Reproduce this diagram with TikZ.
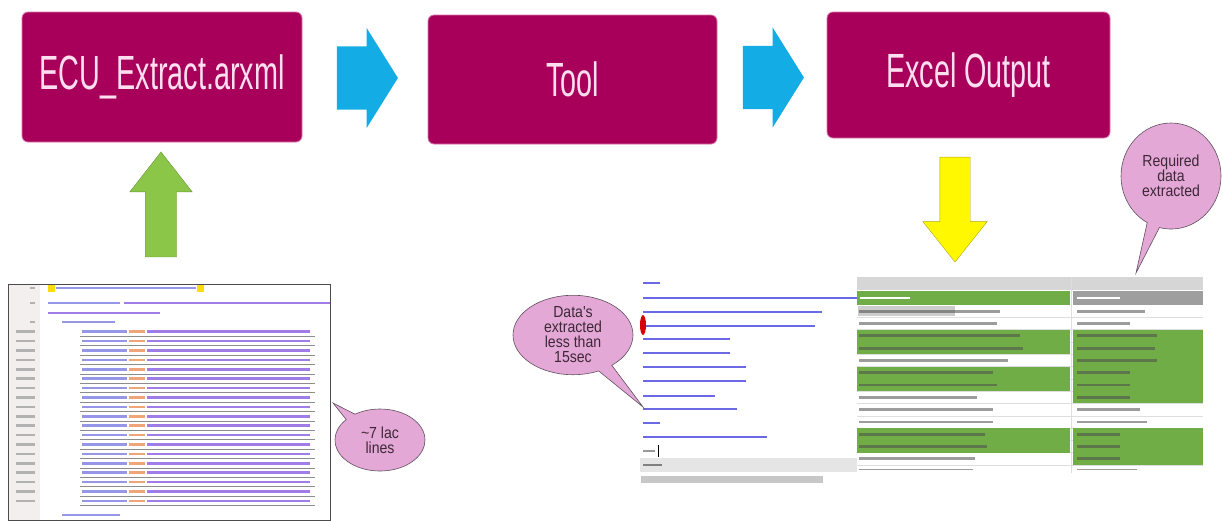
\documentclass[tikz,border=0pt]{standalone}
\usepackage{fontspec}
\setmainfont{Liberation Sans}
\newfontfamily\condfont[FakeStretch=0.6]{Liberation Sans}
\newfontfamily\narrowfont[FakeStretch=0.88]{Liberation Sans}
\usetikzlibrary{shapes.arrows, shapes.callouts}
\definecolor{stagefill}{RGB}{168,0,90}
\definecolor{stageline}{RGB}{215,120,170}
\definecolor{stagetext}{RGB}{255,222,240}
\definecolor{flowblue}{RGB}{20,172,228}
\definecolor{upgreen}{RGB}{140,198,72}
\definecolor{upline}{RGB}{105,150,60}
\definecolor{downyellow}{RGB}{255,248,0}
\definecolor{downline}{RGB}{175,165,20}
\definecolor{bubblefill}{RGB}{228,168,214}
\definecolor{bubbleline}{RGB}{95,80,95}
\definecolor{bubbletext}{RGB}{60,40,55}
\definecolor{xlgreen}{RGB}{112,173,71}
\definecolor{xlhead}{RGB}{214,214,214}
\definecolor{xlgrid}{RGB}{222,222,222}
\definecolor{codeblue}{RGB}{150,150,232}
\definecolor{codeattr}{RGB}{240,165,120}
\definecolor{codeval}{RGB}{160,125,230}
\definecolor{conblue}{RGB}{105,105,230}
\definecolor{gutterfill}{RGB}{243,239,239}

\begin{document}
\begin{tikzpicture}[
  x=1pt, y=-1pt,
  stage/.style={draw=stageline, fill=stagefill, rounded corners=6pt, line width=0.8pt,
                text=stagetext, font=\condfont\fontsize{48}{50}\selectfont},
  flowarrow/.style={single arrow, fill=flowblue, inner xsep=0pt, inner ysep=31.5pt,
                    minimum height=61pt, single arrow head extend=18.5pt, single arrow tip angle=116},
  inarrow/.style={single arrow, draw=upline, fill=upgreen, inner xsep=0pt, inner ysep=15.5pt,
                  minimum height=105pt, single arrow head extend=15.5pt, single arrow tip angle=76},
  outarrow/.style={single arrow, draw=downline, fill=downyellow, inner xsep=0pt, inner ysep=15pt,
                   minimum height=105pt, single arrow head extend=17pt, single arrow tip angle=77},
  bubble/.style={ellipse callout, draw=bubbleline, fill=bubblefill, line width=0.6pt, inner sep=0pt,
                 text=bubbletext, align=center, font=\narrowfont\fontsize{16}{15}\selectfont},
  textbar/.style={line width=2.6pt},
  cellbar/.style={line width=2.8pt, black!70, opacity=0.55},
]
\useasboundingbox (0,0) rectangle (1223,520);

% main flow
\node[stage, minimum width=280pt, minimum height=130pt] (ecu) at (162,77) {ECU\_Extract.arxml};
\node[stage, minimum width=289pt, minimum height=129pt] (tool) at (572.5,79.5) {Tool};
\node[stage, minimum width=283pt, minimum height=126pt] (excel) at (968.5,75) {Excel Output};
\node[flowarrow] (go1) at (357.5,78) {};
\node[flowarrow] (go2) at (763.5,77.5) {};
\node[inarrow, rotate=90] (feed) at (161,214.5) {};
\node[outarrow, rotate=-90] (dump) at (955,200) {};

% arxml screenshot
\fill[white] (8,284) rectangle (330,520);
\fill[gutterfill] (9,285) rectangle (40,520);
\fill[yellow!80!orange] (48,284) rectangle (55,292);
\fill[yellow!80!orange] (197,284) rectangle (204,292);
\draw[textbar, codeblue] (56,288) -- (196,288);
\draw[textbar, codeblue] (48,303) -- (120,303);
\draw[textbar, codeval] (124,303) -- (330,303);
\draw[textbar, codeval] (48,313) -- (160,313);
\draw[textbar, codeblue] (62,322) -- (115,322);
\foreach \yy in {288,303,322} \draw[textbar, black!30] (30,\yy) -- (35,\yy);
\foreach \k in {0,...,18} {
  \pgfmathsetmacro\yy{331.7+9.4*\k}
  \draw[textbar, black!30] (16,\yy) -- (35,\yy);
  \draw[textbar, codeblue] (82,\yy) -- (127,\yy);
  \draw[textbar, codeattr] (129,\yy) -- (145,\yy);
  \draw[textbar, codeval] (147,\yy) -- (310,\yy);
  \draw[black!45, line width=0.5pt] (80,\yy+4.5) -- (315,\yy+4.5);
}
\draw[textbar, codeblue] (62,515) -- (120,515);
\draw[black!70, line width=0.8pt] (8,284) rectangle (330,520);

% console screenshot
\fill[white] (640,277) rectangle (857,487);
\foreach \yy/\xe in {283/660, 298/860, 312/822, 326/815, 339/730, 353/730, 367/746,
                     381/746, 396/715, 409/737, 423/660, 437/767}
  \draw[textbar, conblue] (643,\yy) -- (\xe,\yy);
\draw[textbar, black!40] (643,451) -- (655,451);
\draw[black, line width=0.7pt] (658,445) -- (658,457);
\fill[red!85!black] (643,325) ellipse (3pt and 10pt);
\fill[black!10] (640,458) rectangle (857,472);
\draw[textbar, black!50] (643,465) -- (662,465);
\fill[black!22] (641,476) rectangle (823,483);

% excel screenshot: header, grid, green cell blocks, then cell texts
\fill[white] (857,277) rectangle (1203,473);
\fill[xlhead] (857,277) rectangle (1203,290);
\fill[xlgreen] (857,291) rectangle (1070,305);
\fill[black!38] (1073,291) rectangle (1203,305);
\draw[textbar, white] (860,298) -- (910,298);
\draw[textbar, white] (1077,298) -- (1120,298);
\foreach \i in {1,...,13}
  \draw[xlgrid, line width=0.4pt] (857,{305+12.3*\i}) -- (1203,{305+12.3*\i});
\draw[xlgrid, line width=0.8pt] (1071.5,277) -- (1071.5,473);
\foreach \ra/\rb in {2/4, 5/7, 10/12}
  \fill[xlgreen] (857,{305+12.3*\ra}) rectangle (1070,{305+12.3*\rb});
\foreach \ra/\rb in {2/8, 10/13}
  \fill[xlgreen] (1073,{305+12.3*\ra}) rectangle (1203,{305+12.3*\rb});
\fill[black!20] (858,306) rectangle (955,316);
\foreach \i/\lend/\rend in {0/1000/1145, 1/997/1130, 2/1020/1157, 3/1023/1155, 4/1008/1157,
    5/993/1130, 6/997/1130, 7/977/1130, 8/993/1140, 9/993/1147, 10/985/1120,
    11/987/1120, 12/975/1120} {
  \pgfmathsetmacro\ya{305+12.3*\i}
  \draw[cellbar] (859,\ya+6.2) -- (\lend,\ya+6.2);
  \draw[cellbar] (1077,\ya+6.2) -- (\rend,\ya+6.2);
}
\draw[cellbar, line width=1.5pt] (859,469.5) -- (973,469.5);
\draw[cellbar, line width=1.5pt] (1077,469.5) -- (1137,469.5);

% call-outs
\coordinate (xmlspot) at (333,403);
\coordinate (conspot) at (643,407);
\coordinate (xlspot) at (1136,273);
\node[bubble, minimum width=90pt, minimum height=62pt, callout absolute pointer={(xmlspot)}]
  (lines) at (380,440) {\textasciitilde7 lac\\lines};
\node[bubble, minimum width=120pt, minimum height=76pt, callout absolute pointer={(conspot)}]
  (speed) at (573,335) {Data's\\extracted\\less than\\15sec};
\node[bubble, minimum width=100pt, minimum height=106pt, callout absolute pointer={(xlspot)}]
  (needed) at (1171,176) {Required\\data\\extracted};
\end{tikzpicture}
\end{document}
